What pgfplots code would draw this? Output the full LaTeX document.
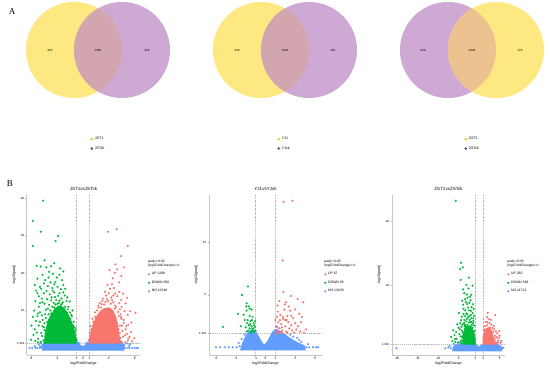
\documentclass[border=0pt]{standalone}
\usepackage{fontspec}
\setmainfont{Liberation Sans}
\newfontfamily\seriffont{Liberation Serif}
\usepackage{pgfplots}
\pgfplotsset{compat=1.18}
\definecolor{vy}{HTML}{FDE882}
\definecolor{vp}{HTML}{CDA9D4}
\definecolor{vo}{HTML}{D3A5AF}
\definecolor{vo3}{HTML}{ECC290}
\definecolor{ly}{HTML}{F5CC12}
\definecolor{lp}{HTML}{7E3A96}
\definecolor{cup}{HTML}{F8766D}
\definecolor{cdown}{HTML}{00BA38}
\definecolor{cno}{HTML}{619CFF}
\pgfplotsset{
 venn/.style={scale only axis, width=150pt, height=100pt, xmin=-75, xmax=75, ymin=-50, ymax=50,
   hide axis, anchor=center, clip=false, legend cell align=left,
   legend style={at={(axis cs:-7.5,-85)}, anchor=north west, draw=none, fill=none,
     font=\fontsize{3.6}{4}\selectfont, row sep=1.3pt, inner sep=0pt}},
 volc/.style={scale only axis, width=113pt, height=160pt, anchor=south west, enlargelimits=false,
   axis lines*=left, axis line style={gray!45, line width=1pt},
   tick style={gray!60, line width=0.4pt}, tick align=outside, major tick length=1.5pt,
   tick label style={font=\fontsize{3}{3.4}\selectfont, inner sep=1pt},
   label style={font=\fontsize{3.6}{4}\selectfont},
   xlabel={log2FoldChange}, ylabel={-log10(padj)},
   xlabel shift=-2pt, ylabel shift=-3.5pt,
   title style={font=\fontsize{4.5}{5}\selectfont, yshift=-5pt},
   /pgf/number format/assume math mode=true, clip mode=individual,
   reverse legend, legend cell align=left,
   legend style={anchor=north west, draw=none, fill=none, font=\fontsize{3.4}{3.8}\selectfont,
     row sep=0.6pt, inner sep=0pt}},
 pts/.style={only marks, mark=*, mark size=0.85pt, mark options={draw=none, fill=#1}, color=#1},
 core/.style={draw=#1, fill=#1, line width=1pt, forget plot},
 ref/.style={gray!55, line width=0.35pt, dash pattern=on 1.5pt off 1pt on 0.4pt off 1pt, forget plot},
}
\begin{document}
\begin{tikzpicture}
\path[use as bounding box, fill=white] (0,0) rectangle (550pt,-369pt);
\node[font=\seriffont\fontsize{9}{9}\selectfont] at (12pt,-12pt) {A};
\node[font=\seriffont\fontsize{9}{9}\selectfont] at (10pt,-184pt) {B};

% ---------------- Venn 1
\begin{axis}[venn, at={(98pt,-50pt)}]
\fill[vy] (axis cs:-24,0) circle[radius=48];
\fill[vp] (axis cs:24,0) circle[radius=48];
\begin{scope}\clip (axis cs:-24,0) circle[radius=48]; \fill[vo] (axis cs:24,0) circle[radius=48];\end{scope}
\node[font=\fontsize{3}{3}\selectfont] at (axis cs:-48,0) {452};
\node[font=\fontsize{3}{3}\selectfont] at (axis cs:0,0) {1060};
\node[font=\fontsize{3}{3}\selectfont] at (axis cs:49,0) {444};
\addlegendimage{only marks, mark=*, mark size=1.1pt, color=ly}
\addlegendentry{JST1}
\addlegendimage{only marks, mark=*, mark size=1.1pt, color=lp}
\addlegendentry{JSTck}
\end{axis}
% ---------------- Venn 2
\begin{axis}[venn, at={(285pt,-50pt)}]
\fill[vy] (axis cs:-24,0) circle[radius=48];
\fill[vp] (axis cs:24,0) circle[radius=48];
\begin{scope}\clip (axis cs:-24,0) circle[radius=48]; \fill[vo] (axis cs:24,0) circle[radius=48];\end{scope}
\node[font=\fontsize{3}{3}\selectfont] at (axis cs:-48,0) {236};
\node[font=\fontsize{3}{3}\selectfont] at (axis cs:0,0) {1023};
\node[font=\fontsize{3}{3}\selectfont] at (axis cs:48,0) {181};
\addlegendimage{only marks, mark=*, mark size=1.1pt, color=ly}
\addlegendentry{YJ1}
\addlegendimage{only marks, mark=*, mark size=1.1pt, color=lp}
\addlegendentry{YJck}
\end{axis}
% ---------------- Venn 3
\begin{axis}[venn, at={(472pt,-50pt)}]
\fill[vp] (axis cs:-24,0) circle[radius=48];
\fill[vy] (axis cs:24,0) circle[radius=48];
\begin{scope}\clip (axis cs:-24,0) circle[radius=48]; \fill[vo3] (axis cs:24,0) circle[radius=48];\end{scope}
\node[font=\fontsize{3}{3}\selectfont] at (axis cs:-49,0) {428};
\node[font=\fontsize{3}{3}\selectfont] at (axis cs:0,0) {1040};
\node[font=\fontsize{3}{3}\selectfont] at (axis cs:48,0) {172};
\addlegendimage{only marks, mark=*, mark size=1.1pt, color=ly}
\addlegendentry{ZST1}
\addlegendimage{only marks, mark=*, mark size=1.1pt, color=lp}
\addlegendentry{ZSTck}
\end{axis}

% ---------------- Volcano 1
\begin{axis}[volc, at={(27pt,-355pt)}, xmin=-8.6, xmax=8.8, ymin=-1.87, ymax=40.8,
  xtick={-8,-4,-1,0,1,4,8}, xticklabels={-8,-4,-1,0,1,4,8},
  ytick={1.301,10,20,30,40}, yticklabels={1.301,10,20,30,40},
  title={JST1vsJSTck}, legend style={at={(1.07,0.53)}}]
\addplot[ref] coordinates {(-1,-1.87) (-1,40.8)};
\addplot[ref] coordinates {(1,-1.87) (1,40.8)};
\addplot[ref] coordinates {(-8.6,1.301) (8.8,1.301)};
\addplot[core=cno] coordinates {(-6.2,-0.6) (-6.3,0.8) (-5.6,1.5) (-1.1,1.7) (-0.7,1.2) (-0.3,0.6) (0,0.4) (0.3,0.6) (0.7,1.2) (1.1,1.7) (5.7,1.5) (6.3,0.9) (6.3,-0.6)} -- cycle;
\addplot[pts=cno] coordinates {(-8.2,0) (-7.8,0) (-7.3,0) (-7.0,0) (-6.6,0) (-6.3,0.2) (6.5,0) (6.9,0) (7.2,0) (7.6,0) (8.0,0) (8.3,0) (8.5,0)
 (-7.4,0.5) (-6.8,0.9) (-6.4,1.2) (-6.6,0.4) (6.4,0.7) (7.1,0.6) (7.3,1.0) (6.8,1.2) (-5.6,1.9) (5.8,1.8) (-0.9,2.0) (0.9,2.1) (-0.6,1.4) (0.6,1.4) (-5.0,2.0) (4.6,1.9)};
\addlegendentry{NO 13246}
\addplot[core=cdown] coordinates {(-5.9,1.3) (-5.8,4.0) (-5.4,6.8) (-4.9,8.8) (-4.3,10.4) (-3.7,11.2) (-3.1,10.9) (-2.5,9.6) (-2.0,7.9) (-1.5,5.8) (-1.2,3.8) (-1.0,2.2) (-1.0,1.3)} -- cycle;
\addplot[pts=cdown] coordinates {(-6.1,39.3) (-7.7,33.9) (-6.5,31.0) (-3.8,29.9) (-4.2,28.5) (-7.7,27.2) (-7.1,21.9) (-6.5,21.7) (-6.2,19.5) (-5.6,21.5) (-4.9,21.8) (-3.5,21.2)
 (-5.2,20.3) (-4.6,19.8) (-4.0,18.8) (-5.8,18.1) (-5.0,17.5) (-4.4,17.0) (-3.2,18.1) (-6.6,16.3) (-5.4,16.5) (-4.7,16.0) (-3.9,16.3) (-3.0,16.8)
 (-7.0,14.6) (-6.0,14.6) (-5.1,14.3) (-4.4,14.8) (-3.6,14.6) (-2.8,14.0) (-6.3,13.2) (-5.5,13.0) (-4.8,13.5) (-4.1,12.8) (-3.3,13.2) (-2.5,12.5)
 (-7.3,12.5) (-6.8,11.0) (-5.9,11.8) (-5.2,11.5) (-2.2,11.0) (-4.5,12.0)
 (-7.5,10.0) (-7.0,8.5) (-6.6,9.5) (-6.2,7.5) (-6.8,6.0) (-7.4,5.0) (-6.0,5.5) (-5.8,9.0) (-6.4,4.0) (-5.7,3.0) (-6.9,2.5) (-7.6,3.5) (-6.1,2.0)
 (-5.5,7.0) (-5.4,10.5) (-7.2,7.2) (-6.5,1.6) (-5.6,1.5)
 (-4.9,9.2) (-4.4,10.8) (-3.9,11.8) (-3.4,11.5) (-2.9,10.5) (-2.4,9.3) (-1.9,7.8) (-1.5,6.0) (-1.2,4.3) (-1.05,2.5) (-5.2,7.5) (-5.4,4.5)
 (-5.5,2.2) (-2.0,9.5) (-1.7,8.5) (-3.1,12.2) (-3.6,12.6) (-1.3,5.5)
 (-6.8,13.8) (-6.2,12.2) (-5.7,10.2) (-6.9,9.2) (-6.3,8.7) (-5.9,6.6) (-6.6,7.0) (-7.1,4.1) (-6.3,3.2) (-5.9,4.8) (-7.3,1.9) (-6.9,1.5)
 (-5.9,1.4) (-6.2,5.8) (-5.7,8.0) (-5.3,9.0) (-5.0,10.0) (-4.7,11.0) (-4.2,11.6) (-3.7,12.0) (-3.2,11.8) (-2.7,11.0) (-2.3,10.3) (-1.8,8.9)
 (-1.4,7.0) (-1.1,5.0) (-4.9,12.7) (-4.3,13.6) (-3.8,13.9) (-3.0,14.8) (-2.4,13.5) (-2.0,12.4) (-1.6,10.0) (-5.6,15.2) (-4.6,15.3) (-3.4,15.7)
 (-6.4,15.8) (-5.3,18.8) (-4.2,17.6) (-3.6,19.5) (-2.7,15.8) (-6.0,17.2) (-7.4,16.8) (-7.0,18.5) (-3.0,20.4) (-4.4,22.6) (-5.9,23.4) (-7.2,15.3)
 (-6.6,12.0) (-7.7,8.3) (-7.9,6.0) (-8.0,2.2)};
\addlegendentry{DOWN 956}
\addplot[core=cup] coordinates {(1.0,1.3) (1.0,2.2) (1.25,4.0) (1.6,6.2) (2.1,8.3) (2.7,9.7) (3.3,10.5) (4.0,10.7) (4.6,10.0) (5.1,8.0) (5.4,5.4) (5.6,3.0) (5.7,1.3)} -- cycle;
\addplot[pts=cup] coordinates {(3.9,31.0) (5.2,31.7) (6.9,27.2) (5.9,24.5) (4.6,18.6) (4.8,16.0) (5.0,14.5) (6.9,8.8) (8.1,9.4)
 (5.3,21.0) (4.9,20.0) (5.6,17.5) (4.2,15.8) (3.6,14.0) (4.4,13.5) (5.3,13.8) (3.1,13.2) (3.9,12.5) (4.7,12.2) (5.6,12.0) (2.6,12.0) (3.3,11.6)
 (6.0,11.0) (5.1,10.8) (6.4,9.8) (5.8,9.0) (6.3,7.5) (7.0,6.2) (6.6,5.0) (7.4,4.2) (6.0,6.0) (5.7,4.0) (6.2,3.0) (7.0,2.5) (5.6,2.0) (7.6,1.8)
 (6.5,1.5) (5.9,7.8) (5.5,8.5) (3.7,13.0) (4.3,11.8) (2.8,10.8) (2.2,10.0) (1.9,8.3) (1.6,7.0) (1.3,5.0) (1.1,3.2) (4.9,10.5) (5.3,6.5)
 (5.5,5.0) (3.0,12.6) (4.0,14.6) (2.4,11.3) (6.8,3.8)
 (5.7,10.3) (5.9,8.3) (6.3,6.7) (6.7,5.8) (6.1,4.6) (6.5,3.4) (7.2,3.0) (6.9,1.9) (7.9,2.6) (7.5,6.8) (5.8,2.6) (6.0,1.6) (5.7,5.9)
 (5.4,9.6) (5.0,11.3) (4.5,12.8) (3.5,12.3) (2.9,11.7) (2.4,10.8) (1.9,9.5) (1.5,7.8) (1.2,5.9) (1.05,4.2) (5.9,12.8) (6.2,14.5) (5.6,15.0)
 (4.7,14.0) (3.4,15.0) (4.5,17.0) (5.9,19.2) (5.0,22.3) (3.8,16.8) (6.6,11.9) (7.3,9.8) (6.8,13.4) (4.1,20.8) (6.3,21.5)};
\addlegendentry{UP 1268}
\node[anchor=south west, align=left, inner sep=0pt, font=\fontsize{3.3}{3.9}\selectfont] at (rel axis cs:1.07,0.55) {padj<=0.05\\|log2FoldChange|>=1};
\end{axis}

% ---------------- Volcano 2
\begin{axis}[volc, at={(209pt,-355pt)}, xmin=-5.7, xmax=5.7, ymin=-0.74, ymax=14.55,
  xtick={-5,-3,-1,0,1,3,5}, xticklabels={-5,-3,-1,0,1,3,5},
  ytick={1.301,5,10}, yticklabels={1.301,5,10},
  title={YJ1vsYJck}, legend style={at={(1.02,0.53)}}]
\addplot[ref] coordinates {(-1,-0.74) (-1,14.55)};
\addplot[ref] coordinates {(1,-0.74) (1,14.55)};
\addplot[ref] coordinates {(-5.7,1.301) (5.7,1.301)};
\addplot[core=cno] coordinates {(-2.5,-0.25) (-2.3,0.4) (-2.0,1.0) (-1.7,1.45) (-1.3,1.65) (-1.0,1.5) (-0.7,1.0) (-0.4,0.5) (-0.15,0.2) (0.15,0.45) (0.5,1.05) (0.8,1.55) (1.1,1.7) (1.5,1.5) (1.9,1.25) (2.4,0.9) (2.9,0.6) (3.4,0.35) (3.9,0.15) (4.0,-0.25)} -- cycle;
\addplot[pts=cno] coordinates {(-5.0,0) (-4.6,0) (-4.1,0) (-3.7,0) (-3.3,0) (-2.9,0) (-2.6,0.1) (4.1,0) (4.4,0) (4.8,0) (5.1,0) (5.3,0)
 (3.2,0.9) (3.6,0.5) (2.8,1.0) (-2.7,0.4) (4.3,0.3) (-2.1,1.2) (2.5,1.2) (-1.4,1.8) (1.2,1.9) (-2.4,0.8) (3.4,0.7)};
\addlegendentry{NO 13428}
\addplot[pts=cdown] coordinates {(-1.77,5.8) (-2.37,5.0) (-2.77,3.2) (-4.27,1.95)
 (-1.9,4.2) (-1.7,3.9) (-1.6,3.7) (-1.9,3.5) (-1.4,3.6) (-1.6,3.0) (-1.3,2.9) (-1.8,2.6) (-1.5,2.5) (-1.2,2.3) (-1.7,2.1) (-1.4,2.0)
 (-1.1,1.9) (-1.6,1.8) (-1.3,1.6) (-1.9,1.5) (-1.2,1.45) (-1.5,1.4) (-2.1,2.6) (-1.0,1.6) (-2.0,1.9) (-1.35,2.6) (-1.55,2.2) (-1.25,1.75)
 (-1.75,1.6) (-2.2,3.1) (-1.45,1.55) (-1.15,2.1) (-1.05,2.5) (-1.85,2.3) (-2.5,2.0) (-1.95,3.9)};
\addlegendentry{DOWN 36}
\addplot[pts=cup] coordinates {(1.83,13.9) (2.73,14.0) (1.73,8.3) (1.8,5.3) (2.07,4.3) (2.57,4.9) (3.23,4.6)
 (1.1,2.0) (1.2,1.5) (1.3,2.4) (1.4,1.8) (1.5,3.1) (1.6,2.2) (1.7,1.6) (1.8,2.7) (1.9,3.6) (2.0,2.0) (2.1,1.5) (2.2,3.0) (2.3,2.4)
 (2.4,1.8) (2.5,3.5) (2.6,2.1) (2.7,1.6) (2.8,2.8) (3.0,2.3) (3.1,1.7) (3.3,2.0) (3.5,1.5) (3.7,2.9) (3.9,1.4) (1.15,2.9) (1.25,3.4)
 (1.45,2.6) (1.05,1.6) (1.35,1.4) (1.65,1.9) (2.15,2.6) (2.35,3.9) (1.95,4.1) (1.2,4.0) (1.1,1.35) (1.55,1.35) (2.9,1.4) (3.4,3.2)
 (3.8,4.3) (2.2,1.4) (1.75,2.9) (1.0,2.6) (1.4,4.4) (2.6,3.0) (3.0,3.6) (2.0,2.6) (1.6,1.45) (3.6,2.4) (4.1,1.7)};
\addlegendentry{UP 67}
\node[anchor=south west, align=left, inner sep=0pt, font=\fontsize{3.3}{3.9}\selectfont] at (rel axis cs:1.02,0.55) {padj<=0.05\\|log2FoldChange|>=1};
\end{axis}

% ---------------- Volcano 3
\begin{axis}[volc, at={(392pt,-355pt)}, xmin=-21.2, xmax=6.3, ymin=-2.1, ymax=48.4,
  xtick={-20,-15,-10,-5,-1,1,5}, xticklabels={-20,-15,-10,-5,-1,1,5},
  ytick={1.301,20,40}, yticklabels={1.301,20,40},
  title={ZST1vsZSTck}, legend style={at={(1.02,0.53)}}]
\addplot[ref] coordinates {(-1,-2.1) (-1,48.4)};
\addplot[ref] coordinates {(1,-2.1) (1,48.4)};
\addplot[ref] coordinates {(-21.2,1.301) (6.3,1.301)};
\addplot[core=cno] coordinates {(-6.4,-0.8) (-6.3,0.5) (-5.5,1.1) (-4.2,1.5) (-1.1,1.6) (-0.6,1.0) (-0.2,0.5) (0.2,0.5) (0.6,1.0) (1.1,1.6) (3.6,1.5) (4.6,1.1) (5.4,0.5) (5.5,-0.8)} -- cycle;
\addplot[pts=cno] coordinates {(-20.1,0) (-8.2,0) (-7.2,0.8) (-6.9,0) (-7.5,0.3) (4.7,0) (5.6,0) (5.9,0.2) (-6.2,1.4) (-5.0,1.9) (4.4,1.8)};
\addlegendentry{NO 11712}
\addplot[core=cdown] coordinates {(-3.9,1.3) (-3.95,4.0) (-3.5,6.2) (-2.9,7.0) (-2.3,7.0) (-1.7,6.2) (-1.2,4.6) (-1.0,2.5) (-1.0,1.3)} -- cycle;
\addplot[pts=cdown] coordinates {(-5.7,46.6) (-4.4,27.0) (-4.0,25.6) (-4.6,25.0) (-4.5,21.6) (-2.5,22.3) (-3.6,17.4) (-2.6,18.9)
 (-3.4,15.5) (-2.1,15.2) (-2.9,14.0) (-1.8,13.0) (-3.8,12.5) (-2.5,12.0) (-1.6,11.2) (-3.1,11.0) (-4.2,10.0) (-2.0,10.5) (-2.7,9.8)
 (-3.6,9.0) (-1.4,9.5) (-2.3,9.0) (-4.6,8.0) (-3.2,8.5) (-1.9,8.3) (-5.0,6.5) (-4.3,6.8) (-6.3,5.7) (-6.8,3.6) (-5.5,3.0) (-4.8,4.5)
 (-5.8,2.0) (-4.4,2.5) (-5.2,1.8) (-4.1,7.5) (-1.2,7.2) (-1.5,8.0) (-2.5,8.2) (-3.9,13.8) (-1.3,12.4) (-4.9,11.2) (-2.2,16.3) (-3.0,17.0)
 (-3.5,6.9) (-4.0,5.0) (-4.1,3.5) (-6.0,4.2) (-5.6,5.2) (-1.1,5.5) (-1.05,3.0) (-1.3,1.9) (-2.8,7.4) (-3.3,7.3) (-2.0,7.0) (-1.6,6.5)
 (-4.7,6.0) (-4.5,3.8) (-4.2,5.6) (-4.4,8.9) (-3.8,10.8) (-3.4,10.2) (-2.9,10.8) (-2.4,10.2) (-1.9,9.5) (-1.4,8.7) (-1.2,10.3) (-3.7,8.0)
 (-3.0,9.3) (-2.2,8.2) (-1.7,7.5) (-3.4,12.0) (-2.7,12.9) (-2.0,11.8) (-1.5,13.9) (-3.2,14.6) (-2.4,14.4) (-4.1,15.0) (-1.9,16.9) (-2.8,16.0)
 (-3.9,18.6) (-1.6,19.8) (-3.1,20.0) (-5.3,7.6) (-5.9,2.9) (-6.5,2.3) (-4.3,1.6) (-4.0,2.2) (-4.6,1.9) (-3.6,7.5)};
\addlegendentry{DOWN 592}
\addplot[core=cup] coordinates {(1.0,1.3) (1.0,3.5) (1.3,5.2) (1.8,6.3) (2.4,6.5) (2.9,5.8) (3.3,4.3) (3.5,2.5) (3.6,1.3)} -- cycle;
\addplot[pts=cup] coordinates {(2.1,11.2) (3.9,10.5) (1.6,8.4) (2.5,8.0) (1.9,7.3) (3.0,7.5) (2.2,6.2) (3.7,6.0) (4.4,4.7) (5.0,4.0)
 (4.0,3.2) (4.6,2.5) (3.9,2.0) (1.2,6.0) (2.8,4.2) (3.3,3.5) (5.2,1.8) (4.2,1.5) (1.4,7.0) (2.7,6.6) (3.4,5.2) (1.1,3.5) (3.7,2.5)
 (4.8,3.3) (1.8,5.5) (3.2,1.6) (2.4,9.2) (1.3,4.5)
 (3.8,4.0) (4.1,5.3) (3.6,7.0) (2.9,9.0) (1.9,9.9) (1.5,5.5) (2.0,8.2) (3.3,6.4) (4.3,3.6) (4.7,1.9) (3.8,1.4) (1.2,2.1) (5.4,2.4) (4.9,5.5)};
\addlegendentry{UP 260}
\node[anchor=south west, align=left, inner sep=0pt, font=\fontsize{3.3}{3.9}\selectfont] at (rel axis cs:1.02,0.55) {padj<=0.05\\|log2FoldChange|>=1};
\end{axis}
\end{tikzpicture}
\end{document}
